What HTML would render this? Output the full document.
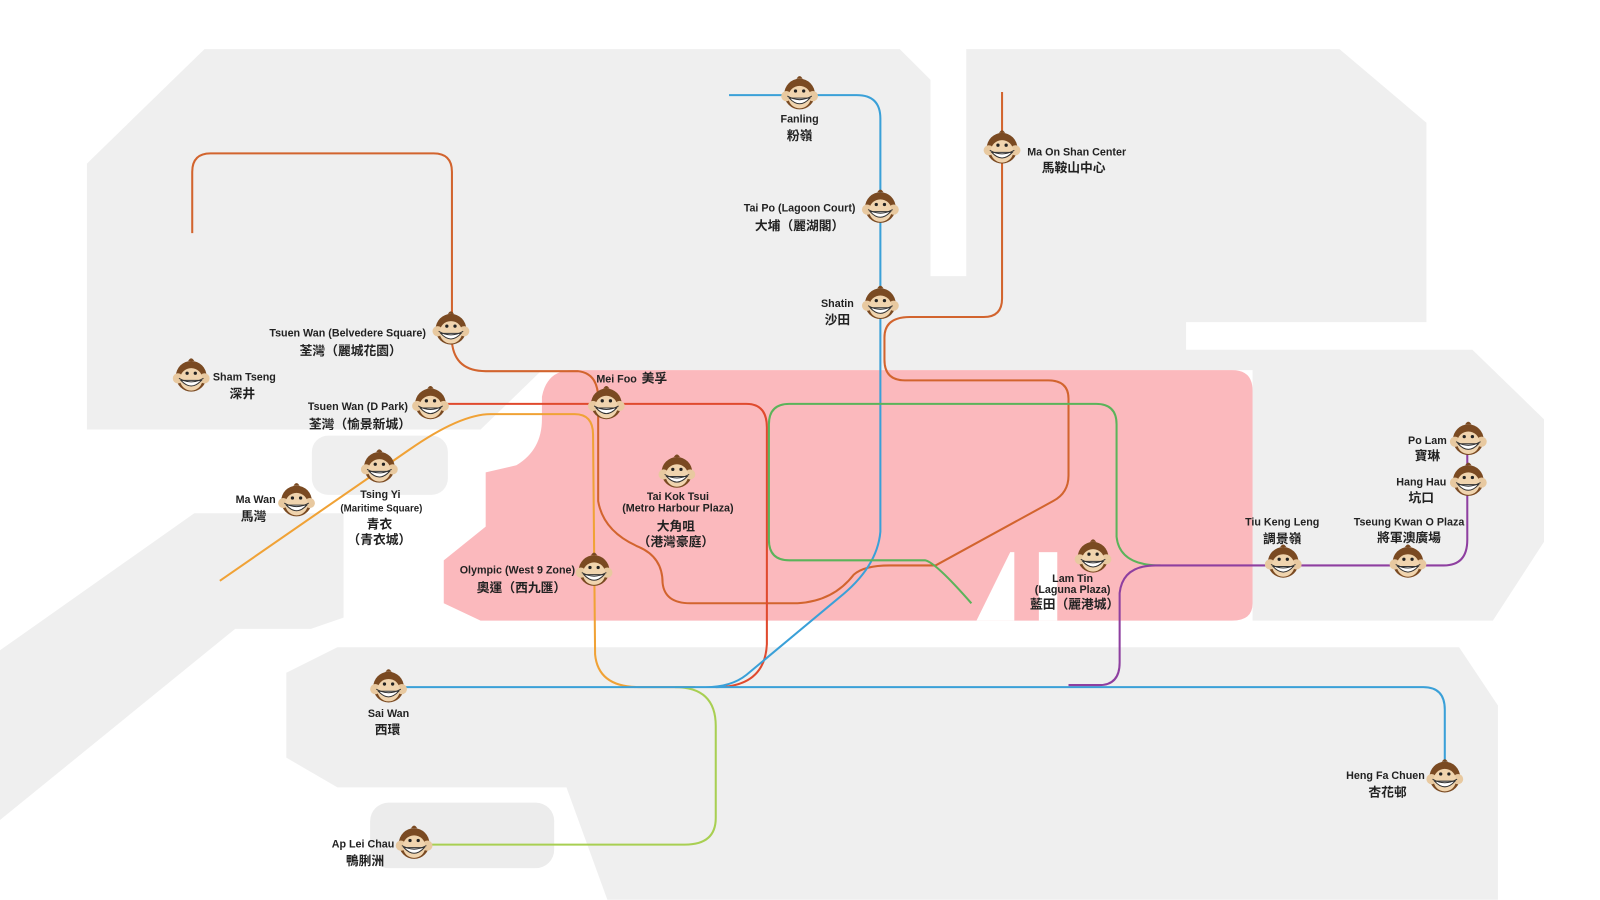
<!DOCTYPE html>
<html><head><meta charset="utf-8"><style>
html,body{margin:0;padding:0;background:#fff}
svg{display:block}
text{font-family:"Liberation Sans","Noto Sans CJK TC",sans-serif;font-weight:bold;fill:#222}
.e{font-size:10.5px}.c{font-size:12.5px}
</style></head><body>
<svg width="1600" height="900" viewBox="0 0 1600 900" xmlns="http://www.w3.org/2000/svg">
<defs>
<g id="m">
<circle cx="0" cy="0" r="15" fill="#7a4a22"/>
<circle cx="-13" cy="2" r="5" fill="#e8c9a0"/><circle cx="13" cy="2" r="5" fill="#e8c9a0"/>
<ellipse cx="0" cy="3" rx="11" ry="11" fill="#f0d4ae"/>
<circle cx="-4" cy="-3" r="1.6" fill="#222"/><circle cx="4" cy="-3" r="1.6" fill="#222"/>
<path d="M-10 4 Q0 15 10 4 Z" fill="#fff" stroke="#333" stroke-width="1"/>
<path d="M-12 2 Q0 9 12 2" fill="none" stroke="#333" stroke-width="1"/>
<path d="M-3 -15 Q0 -20 3 -15" fill="#7a4a22"/>
</g>
</defs>
<g transform="scale(1.0225)">
<g fill="#efefef">
<polygon points="200,48 880,48 910,78 910,270 945,270 945,48 1310,48 1395,120 1395,315 1160,315 1160,342 1440,342 1510,410 1510,530 1460,607 1225,607 1225,362 530,362 470,420 85,420 85,160"/>
<rect x="305" y="426" width="133" height="58" rx="16"/>
<polygon points="190,502 336,502 336,604 304,615 230,615 0,802 0,636"/>
<polygon points="330,633 1427,633 1465,690 1465,880 594,880 554,770 330,770 280,741 280,658"/>
</g>
<rect x="362" y="785" width="180" height="64" rx="18" fill="#ececec"/>
<path d="M560,362 L1205,362 Q1225,362 1225,382 L1225,590 Q1225,607 1205,607 L470,607 L434,590 L434,548 L475,515 L475,462 L505,455 Q530,440 530,410 L530,388 Q535,362 560,362 Z" fill="#fbb9bd"/>
<polygon points="955,607 988,540 992,540 992,607" fill="#fff"/>
<rect x="1016" y="540" width="18" height="67" fill="#fff"/>
<g fill="none" stroke-width="2">
<path stroke="#d2642e" d="M188,228 L188,168 Q188,150 206,150 L424,150 Q442,150 442,168 L442,335 Q445,363 475,363 L565,363 Q585,365 585,390 L585,490 Q590,520 625,535 Q648,545 648,570 Q650,590 675,590 L780,590 Q815,588 835,562 Q845,553 870,553 L915,553 L1030,490 Q1045,482 1045,465 L1045,390 Q1045,372 1025,372 L885,372 Q865,372 865,352 L865,330 Q865,310 890,310 L962,310 Q980,310 980,292 L980,90"/>
<path stroke="#e04a2e" d="M430,395 L730,395 Q750,395 750,418 L750,630 Q748,672 700,672"/>
<path stroke="#f0a236" d="M215,568 L400,440 Q450,405 480,405 L562,405 Q580,405 580,425 L582,640 Q585,672 625,672 L680,672"/>
<path stroke="#a8cf52" d="M660,672 Q700,672 700,710 L700,800 Q700,826 670,826 L405,826"/>
<path stroke="#3aa0d8" d="M713,93 L838,93 Q861,93 861,116 L861,520 Q858,555 820,585 L730,660 Q715,672 690,672 M380,672 L1392,672 Q1413,672 1413,694 L1413,760"/>
<path stroke="#5bb35a" d="M772,395 L1072,395 Q1092,395 1092,415 L1092,525 Q1095,553 1135,553 M772,395 Q752,395 752,415 L752,528 Q752,548 772,548 L905,548 Q915,550 950,590"/>
<path stroke="#8e3fa0" d="M1045,670 L1075,670 Q1095,670 1095,648 L1095,580 Q1098,553 1130,553 L1412,553 Q1435,553 1435,528 L1435,430"/>
</g>
<g>
<use href="#m" x="782" y="92"/><use href="#m" x="980" y="145"/><use href="#m" x="861" y="203"/><use href="#m" x="861" y="297"/>
<use href="#m" x="441" y="322"/><use href="#m" x="187" y="368"/><use href="#m" x="421" y="395"/><use href="#m" x="593" y="395"/>
<use href="#m" x="371" y="457"/><use href="#m" x="290" y="490"/><use href="#m" x="662" y="462"/><use href="#m" x="581" y="558"/>
<use href="#m" x="1069" y="545"/><use href="#m" x="1255" y="550"/><use href="#m" x="1377" y="550"/><use href="#m" x="1436" y="430"/>
<use href="#m" x="1436" y="470"/><use href="#m" x="380" y="672"/><use href="#m" x="1413" y="760"/><use href="#m" x="405" y="825"/>
</g>
<g text-anchor="middle">
<text class="e" x="782" y="120">Fanling</text><text class="c" x="782" y="137">粉嶺</text>
<text class="e" x="1053" y="152">Ma On Shan Center</text><text class="c" x="1050" y="168">馬鞍山中心</text>
<text class="e" x="782" y="207">Tai Po (Lagoon Court)</text><text class="c" x="782" y="225">大埔（麗湖閣）</text>
<text class="e" x="819" y="300">Shatin</text><text class="c" x="819" y="317">沙田</text>
<text class="e" x="340" y="329">Tsuen Wan (Belvedere Square)</text><text class="c" x="343" y="347">荃灣（麗城花園）</text>
<text class="e" x="239" y="372">Sham Tseng</text><text class="c" x="237" y="389">深井</text>
<text class="e" x="350" y="401">Tsuen Wan (D Park)</text><text class="c" x="352" y="419">荃灣（愉景新城）</text>
<text class="e" x="603" y="374">Mei Foo</text><text class="c" x="640" y="374">美孚</text>
<text class="e" x="372" y="487">Tsing Yi</text><text class="e" x="373" y="500" style="font-size:9.5px">(Maritime Square)</text>
<text class="c" x="371" y="517">青衣</text><text class="c" x="371" y="532">（青衣城）</text>
<text class="e" x="250" y="492">Ma Wan</text><text class="c" x="248" y="509">馬灣</text>
<text class="e" x="663" y="489">Tai Kok Tsui</text><text class="e" x="663" y="500">(Metro Harbour Plaza)</text>
<text class="c" x="661" y="519">大角咀</text><text class="c" x="661" y="534">（港灣豪庭）</text>
<text class="e" x="506" y="561">Olympic (West 9 Zone)</text><text class="c" x="510" y="579">奧運（西九匯）</text>
<text class="e" x="1049" y="569">Lam Tin</text><text class="e" x="1049" y="580">(Laguna Plaza)</text><text class="c" x="1051" y="595">藍田（麗港城）</text>
<text class="e" x="1254" y="514">Tiu Keng Leng</text><text class="c" x="1254" y="531">調景嶺</text>
<text class="e" x="1378" y="514">Tseung Kwan O Plaza</text><text class="c" x="1378" y="530">將軍澳廣場</text>
<text class="e" x="1396" y="434">Po Lam</text><text class="c" x="1396" y="450">寶琳</text>
<text class="e" x="1390" y="475">Hang Hau</text><text class="c" x="1390" y="491">坑口</text>
<text class="e" x="380" y="701">Sai Wan</text><text class="c" x="379" y="718">西環</text>
<text class="e" x="1355" y="762">Heng Fa Chuen</text><text class="c" x="1357" y="779">杏花邨</text>
<text class="e" x="355" y="829">Ap Lei Chau</text><text class="c" x="357" y="846">鴨脷洲</text>
</g>
</g>
</svg>
</body></html>
